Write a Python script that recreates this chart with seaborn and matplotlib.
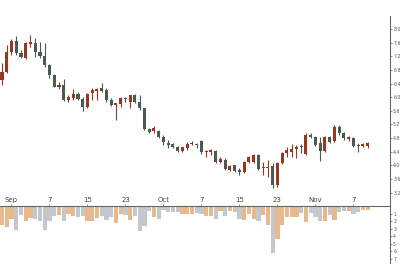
import numpy as np
import pandas as pd
import matplotlib
matplotlib.use("Agg")
import matplotlib.pyplot as plt
import seaborn as sns

# ---- data ----
open_ = [6.50, 6.75, 7.33, 7.65, 7.29, 7.14, 7.55, 7.58, 7.33, 7.22,
         6.94, 6.65, 6.29, 6.36, 5.92, 5.97, 6.08, 5.94, 5.70, 6.11,
         6.18, 6.26, 6.21, 5.92, 5.77, 5.80, 5.99, 5.87, 6.05, 5.86,
         5.67, 5.06, 5.01, 5.01, 4.84, 4.67, 4.62, 4.55, 4.42, 4.50,
         4.63, 4.64, 4.71, 4.38, 4.39, 4.41, 4.11, 4.15, 3.86, 4.00,
         3.86, 3.81, 4.11, 4.10, 4.30, 3.91, 3.91, 3.98, 3.42, 4.06,
         4.36, 4.40, 4.48, 4.58, 4.33, 4.89, 4.82, 4.67, 4.42, 4.84,
         4.72, 5.13, 4.94, 4.76, 4.79, 4.60, 4.58, 4.57]
high = [7.00, 7.53, 7.71, 7.79, 7.38, 7.63, 7.82, 7.73, 7.63, 7.58,
        6.96, 6.68, 6.45, 6.53, 6.06, 6.23, 6.15, 6.00, 6.11, 6.26,
        6.26, 6.41, 6.26, 5.97, 5.84, 6.01, 6.01, 6.06, 6.09, 6.06,
        5.68, 5.09, 5.15, 5.04, 4.89, 4.74, 4.65, 4.58, 4.55, 4.68,
        4.71, 4.65, 4.74, 4.45, 4.48, 4.45, 4.25, 4.21, 4.01, 4.01,
        3.91, 4.13, 4.27, 4.33, 4.33, 4.11, 4.16, 4.07, 4.10, 4.39,
        4.55, 4.63, 4.60, 4.63, 4.94, 4.94, 4.86, 4.84, 4.86, 4.86,
        5.18, 5.18, 4.99, 4.86, 4.82, 4.65, 4.65, 4.69]
low = [6.36, 6.71, 7.24, 7.24, 7.15, 7.13, 7.48, 7.19, 7.14, 6.89,
       6.56, 6.29, 6.23, 5.90, 5.87, 5.92, 5.92, 5.60, 5.67, 5.92,
       5.92, 6.16, 5.87, 5.74, 5.33, 5.72, 5.87, 5.67, 5.82, 5.62,
       5.04, 4.95, 4.96, 4.81, 4.60, 4.52, 4.50, 4.38, 4.40, 4.45,
       4.60, 4.50, 4.33, 4.25, 4.30, 4.07, 4.07, 3.86, 3.83, 3.80,
       3.72, 3.78, 4.07, 4.07, 3.86, 3.72, 3.67, 3.35, 3.37, 4.04,
       4.25, 4.25, 4.21, 4.35, 4.30, 4.79, 4.57, 4.14, 4.39, 4.66,
       4.69, 4.89, 4.74, 4.72, 4.55, 4.40, 4.55, 4.50]
close = [6.75, 7.33, 7.65, 7.30, 7.17, 7.58, 7.63, 7.33, 7.22, 6.94,
         6.65, 6.31, 6.36, 5.92, 6.01, 6.08, 5.94, 5.70, 6.09, 6.21,
         6.23, 6.19, 5.92, 5.77, 5.82, 5.98, 5.94, 6.05, 5.87, 5.67,
         5.07, 4.99, 5.09, 4.84, 4.68, 4.60, 4.55, 4.42, 4.53, 4.63,
         4.66, 4.60, 4.39, 4.42, 4.44, 4.11, 4.18, 3.89, 3.99, 3.83,
         3.81, 4.11, 4.25, 4.30, 3.88, 3.96, 3.96, 3.42, 4.06, 4.36,
         4.44, 4.47, 4.55, 4.54, 4.89, 4.84, 4.60, 4.43, 4.83, 4.69,
         5.13, 4.94, 4.79, 4.82, 4.57, 4.57, 4.62, 4.65]
volume = [2.47, 2.77, 1.71, 3.13, 1.13, 2.03, 1.57, 1.71, 2.03, 3.23,
          2.03, 1.27, 1.13, 2.03, 1.00, 1.36, 1.44, 1.36, 2.03, 2.03,
          1.57, 1.27, 1.80, 1.44, 2.24, 1.00, 1.13, 1.89, 1.27, 3.36,
          2.69, 0.69, 1.44, 1.71, 0.56, 0.83, 0.83, 0.73, 1.00, 1.00,
          1.00, 0.91, 1.00, 1.36, 1.36, 1.71, 0.69, 1.36, 0.69, 0.83,
          1.71, 1.89, 1.00, 1.71, 2.03, 1.13, 2.47, 6.16, 4.37, 2.47,
          1.44, 1.45, 1.47, 0.96, 2.16, 0.96, 1.44, 2.03, 2.03, 1.13,
          1.89, 0.83, 0.69, 0.69, 1.00, 0.73, 0.47, 0.47]
tick_labels = ["Sep", "7", "15", "23", "Oct", "7", "15", "23", "Nov", "7"]
price_ticks = [3.2, 3.6, 4.0, 4.4, 4.8, 5.2, 5.6, 6.0, 6.4, 6.8, 7.2, 7.6, 8.0]
volume_ticks = [1, 2, 3, 4, 5, 6, 7]

# ---- styling ----
sns.set_theme(style="white")
plt.rcParams['font.family'] = ['DejaVu Sans']
RED = "#963720"
GREY = "#4b5a55"
VOL_UP = "#e8b98c"
VOL_DOWN = "#c4c8cc"
SPINE = "#666666"

df = pd.DataFrame({"open": open_, "high": high, "low": low,
                   "close": close, "volume": volume})
df["idx"] = np.arange(len(df))
df["dir"] = np.where(df["close"] >= df["open"], "up", "down")

fig = plt.figure(figsize=(4.0, 2.8), dpi=100)
ax = fig.add_axes([0.0, 0.2643, 0.975, 0.6786])
axv = fig.add_axes([0.0, 0.0607, 0.975, 0.2036], sharex=ax)

# candles
colors = np.where(df["dir"] == "up", RED, GREY)
ax.vlines(df["idx"], df["low"], df["high"], colors=colors, linewidth=0.8)
body_bottom = np.minimum(df["open"], df["close"])
body_h = np.maximum(np.abs(df["close"] - df["open"]), 0.035)
ax.bar(df["idx"], body_h, bottom=body_bottom, width=0.64, color=colors,
       linewidth=0)

# volume
sns.barplot(data=df, x="idx", y="volume", hue="dir", native_scale=True,
            palette={"up": VOL_UP, "down": VOL_DOWN}, dodge=False,
            width=0.9, legend=False, ax=axv, linewidth=0, saturation=1)

xlim = (-0.42, 81.7)
ax.set_xlim(*xlim)
ax.set_ylim(2.808, 8.381)
axv.set_xlim(*xlim)
axv.set_ylim(7.53, 0)

# price axis
for s in ["top", "left", "bottom"]:
    ax.spines[s].set_visible(False)
ax.spines["right"].set_color(SPINE)
ax.spines["right"].set_linewidth(0.8)
ax.yaxis.tick_right()
ax.set_yticks(price_ticks)
ax.set_yticklabels([f"{t:.1f}" for t in price_ticks])
ax.tick_params(axis="y", right=True, length=1.5, width=0.5, color=SPINE,
               labelsize=3.3, labelcolor="#555555", pad=0.8)
ax.tick_params(axis="x", bottom=False, labelbottom=False)
ax.set_xlabel("")
ax.set_ylabel("")

# volume axis
for s in ["left", "bottom"]:
    axv.spines[s].set_visible(False)
for s in ["right", "top"]:
    axv.spines[s].set_color(SPINE)
    axv.spines[s].set_linewidth(0.8)
axv.yaxis.tick_right()
axv.set_yticks(volume_ticks)
axv.set_yticklabels([str(t) for t in volume_ticks])
axv.tick_params(axis="y", right=True, left=False, length=1.5, width=0.5,
                color=SPINE, labelsize=3.3, labelcolor="#555555", pad=0.8)
axv.xaxis.tick_top()
axv.set_xticks(range(2, len(df), 8)[:len(tick_labels)])
axv.set_xticklabels(tick_labels)
axv.tick_params(axis="x", top=True, bottom=False, length=1.5, width=0.5,
                color=SPINE, labelsize=5, labelcolor="#444444", pad=0.5)
axv.set_xlabel("")
axv.set_ylabel("")

fig.savefig("out.png", dpi=100)
